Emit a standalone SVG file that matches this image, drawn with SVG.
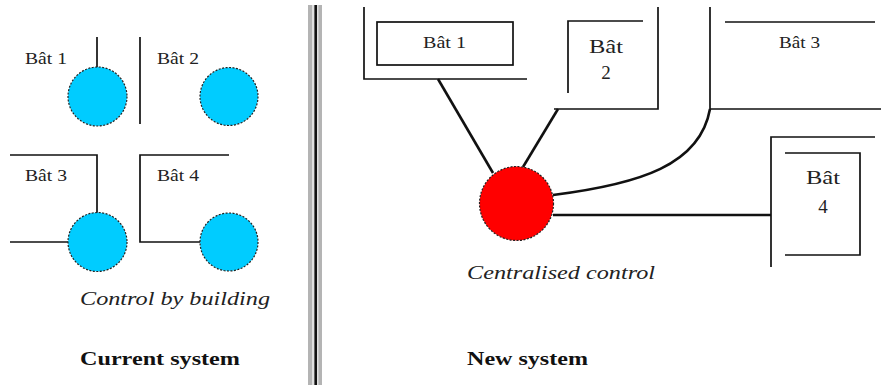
<svg xmlns="http://www.w3.org/2000/svg" width="881" height="385" viewBox="0 0 881 385">
  <style>
    .bg { fill: #ffffff; }
    .wall { fill: none; stroke: #111; stroke-width: 1.7; }
    .wire { fill: none; stroke: #111; stroke-width: 2.6; }
    .local { fill: #00ccff; stroke: #222; stroke-width: 1.2; stroke-dasharray: 2 1.5; }
    .central { fill: #ff0000; stroke: #222; stroke-width: 1.2; stroke-dasharray: 2 1.5; }
    .lbl { font-family: "Liberation Serif", "Times New Roman", serif; font-size: 17px; fill: #222; }
    .big { font-size: 19px; }
    .mid { text-anchor: middle; }
    .cap { font-family: "Liberation Serif", "Times New Roman", serif; font-size: 18px; font-style: italic; fill: #222; }
    .title { font-family: "Liberation Serif", "Times New Roman", serif; font-size: 18px; font-weight: bold; fill: #111; }
  </style>

  <rect class="bg" x="0" y="0" width="881" height="385"/>

  <!-- Current system: one controller per building -->
  <g id="current-walls">
    <path class="wall" d="M97 37 V68"/>
    <path class="wall" d="M140 37 V124"/>
    <path class="wall" d="M10 155 H97 V213"/>
    <path class="wall" d="M10 242 H68"/>
    <path class="wall" d="M229 155 H140 V242 H200"/>
  </g>
  <g id="bat1-local">
    <text class="lbl" x="25" y="64" textLength="42" lengthAdjust="spacingAndGlyphs">Bât 1</text>
    <circle class="local" cx="97.5" cy="96.5" r="29.5"/>
  </g>
  <g id="bat2-local">
    <text class="lbl" x="157" y="64" textLength="42" lengthAdjust="spacingAndGlyphs">Bât 2</text>
    <circle class="local" cx="229" cy="96.5" r="29"/>
  </g>
  <g id="bat3-local">
    <text class="lbl" x="25" y="181" textLength="42" lengthAdjust="spacingAndGlyphs">Bât 3</text>
    <circle class="local" cx="97.5" cy="242" r="29.5"/>
  </g>
  <g id="bat4-local">
    <text class="lbl" x="157" y="181" textLength="42" lengthAdjust="spacingAndGlyphs">Bât 4</text>
    <circle class="local" cx="229" cy="242" r="29"/>
  </g>
  <text class="cap" x="80" y="305" textLength="190" lengthAdjust="spacingAndGlyphs">Control by building</text>
  <text class="title" x="80" y="365" textLength="160" lengthAdjust="spacingAndGlyphs">Current system</text>

  <!-- Panel separator -->
  <g id="separator">
    <rect x="308" y="5" width="14" height="380" fill="#b4b4b4"/>
    <rect x="312" y="5" width="2" height="380" fill="#e0e0e0"/>
    <rect x="317" y="5" width="1.5" height="380" fill="#e0e0e0"/>
    <rect x="314.5" y="5" width="2.5" height="380" fill="#111"/>
  </g>

  <!-- New system: one central controller -->
  <g id="connectors">
    <path class="wire" d="M438 79 L493 173"/>
    <path class="wire" d="M558 109 L523 167"/>
    <path class="wire" d="M553 195 C 640 184, 700 165, 710 109"/>
    <path class="wire" d="M553 215 H771"/>
  </g>

  <g id="bat1">
    <path class="wall" d="M364 7 V79 H527"/>
    <rect class="wall" x="377" y="22" width="136" height="43"/>
    <text class="lbl" x="423" y="48" textLength="43" lengthAdjust="spacingAndGlyphs">Bât 1</text>
  </g>
  <g id="bat2">
    <path class="wall" d="M568 93 V21 H643"/>
    <path class="wall" d="M658 7 V109 H554"/>
    <text class="lbl big" x="589" y="53" textLength="34" lengthAdjust="spacingAndGlyphs">Bât</text>
    <text class="lbl big mid" x="606" y="79">2</text>
  </g>
  <g id="bat3">
    <path class="wall" d="M710 7 V109 H881"/>
    <path class="wall" d="M725 22 H875"/>
    <text class="lbl" x="779" y="48" textLength="41" lengthAdjust="spacingAndGlyphs">Bât 3</text>
  </g>
  <g id="bat4">
    <path class="wall" d="M875 137 H771 V267"/>
    <path class="wall" d="M785 153 H860 V255 H785"/>
    <text class="lbl big" x="806" y="184" textLength="34" lengthAdjust="spacingAndGlyphs">Bât</text>
    <text class="lbl big mid" x="823" y="213">4</text>
  </g>
  <g id="central-controller">
    <circle class="central" cx="516.5" cy="203.5" r="37"/>
  </g>
  <text class="cap" x="467" y="279" textLength="188" lengthAdjust="spacingAndGlyphs">Centralised control</text>
  <text class="title" x="467" y="365" textLength="121" lengthAdjust="spacingAndGlyphs">New system</text>
</svg>
